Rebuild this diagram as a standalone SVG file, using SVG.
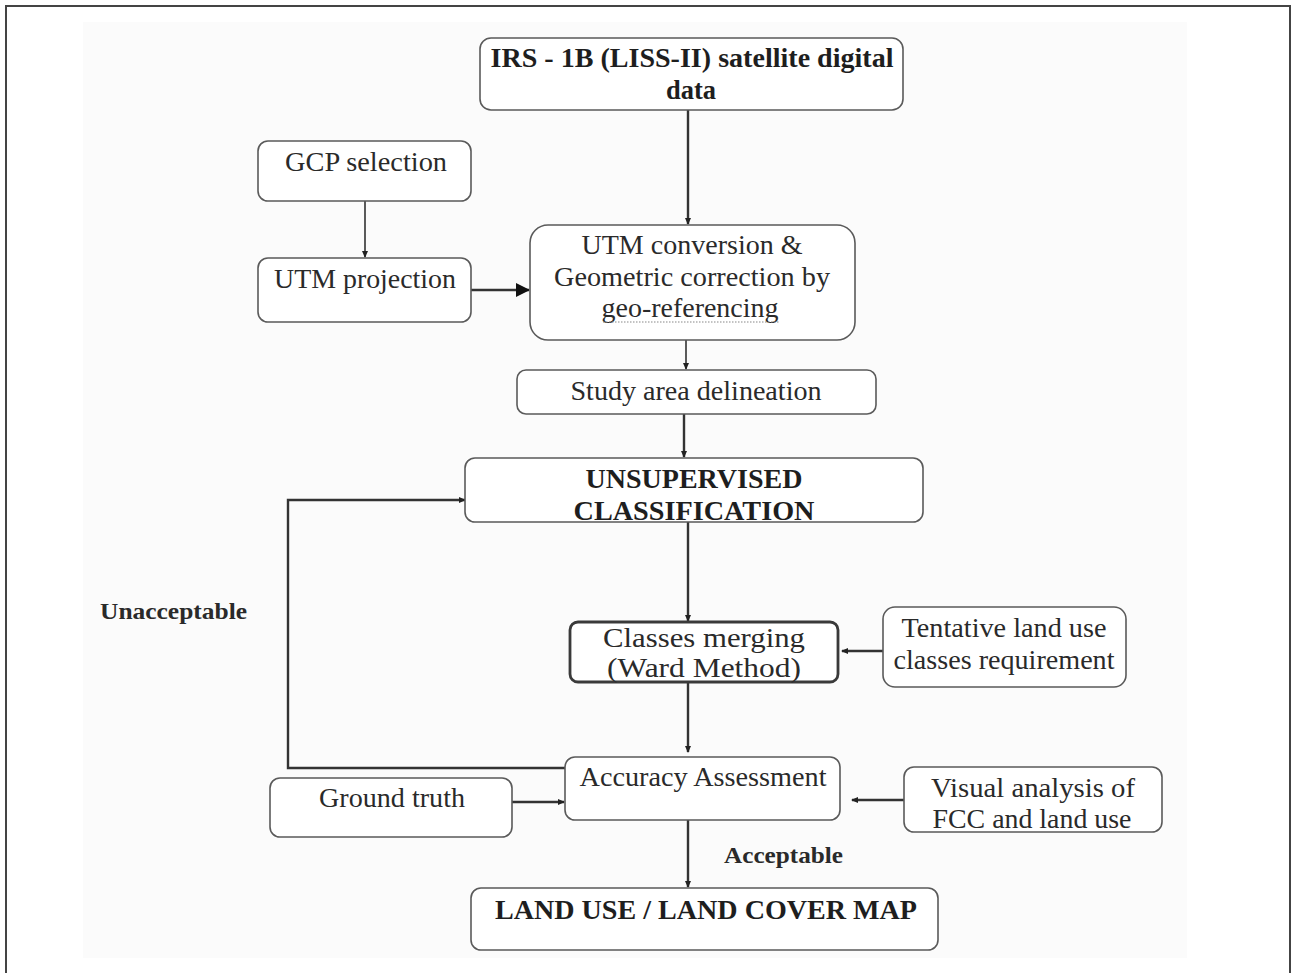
<svg xmlns="http://www.w3.org/2000/svg" width="1294" height="973" viewBox="0 0 1294 973">
<style>
.box{fill:#ffffff;stroke:#5a5a5a;stroke-width:1.6}
.thick{fill:#ffffff;stroke:#3a3a3a;stroke-width:2.8}
.t{font-family:"Liberation Serif","Times New Roman",serif;font-size:28px;fill:#2a2a2a;text-anchor:middle}
.b{font-family:"Liberation Serif","Times New Roman",serif;font-size:28px;font-weight:bold;fill:#1e1e1e;text-anchor:middle}
.lbl{font-family:"Liberation Serif","Times New Roman",serif;font-size:23px;font-weight:bold;fill:#2a2a2a}
.c{fill:none;stroke:#333;stroke-width:2.4}
.cthin{fill:none;stroke:#333;stroke-width:1.6}
</style>
<defs>
<marker id="dot" viewBox="0 0 8 8" refX="6" refY="4" markerWidth="8" markerHeight="8" markerUnits="userSpaceOnUse" orient="auto">
<path d="M0,1 L7,4 L0,7 Z" fill="#222"/>
</marker>
<marker id="big" viewBox="0 0 14 14" refX="13" refY="7" markerWidth="14" markerHeight="14" markerUnits="userSpaceOnUse" orient="auto">
<path d="M0,0 L14,7 L0,14 Z" fill="#111"/>
</marker>
</defs>
<rect x="0" y="0" width="1294" height="973" fill="#ffffff"/>
<rect x="6" y="6" width="1284" height="980" fill="#ffffff" stroke="#444" stroke-width="2"/>
<rect x="83" y="22" width="1104" height="936" fill="#fbfbfb"/>

<g id="connectors">
<path class="c" d="M688,110 V224" marker-end="url(#dot)"/>
<path class="cthin" d="M365,201 V257" marker-end="url(#dot)"/>
<path class="c" d="M471,290 H529" marker-end="url(#big)"/>
<path class="cthin" d="M686,340 V369" marker-end="url(#dot)"/>
<path class="c" d="M684,414 V457" marker-end="url(#dot)"/>
<path class="c" d="M688,522 V621" marker-end="url(#dot)"/>
<path class="c" d="M883,651 H842" marker-end="url(#dot)"/>
<path class="c" d="M688,682 V752" marker-end="url(#dot)"/>
<path class="c" d="M565,768 H288 V500 H465" marker-end="url(#dot)"/>
<path class="c" d="M512,802 H564" marker-end="url(#dot)"/>
<path class="c" d="M904,800 H852" marker-end="url(#dot)"/>
<path class="c" d="M688,820 V887" marker-end="url(#dot)"/>
</g>

<g id="n_irs">
<rect class="box" x="480" y="38" width="423" height="72" rx="11"/>
<text class="b" x="692" y="67" textLength="403" lengthAdjust="spacingAndGlyphs">IRS - 1B (LISS-II) satellite digital</text>
<text class="b" x="691" y="99" textLength="50" lengthAdjust="spacingAndGlyphs">data</text>
</g>
<g id="n_gcp">
<rect class="box" x="258" y="141" width="213" height="60" rx="10"/>
<text class="t" x="366" y="171" textLength="162" lengthAdjust="spacingAndGlyphs">GCP selection</text>
</g>
<g id="n_utmproj">
<rect class="box" x="258" y="258" width="213" height="64" rx="10"/>
<text class="t" x="365" y="288" textLength="182" lengthAdjust="spacingAndGlyphs">UTM projection</text>
</g>
<g id="n_utmconv">
<rect class="box" x="530" y="225" width="325" height="115" rx="18"/>
<text class="t" x="692" y="254" textLength="221" lengthAdjust="spacingAndGlyphs">UTM conversion &amp;</text>
<text class="t" x="692" y="286" textLength="276" lengthAdjust="spacingAndGlyphs">Geometric correction by</text>
<text class="t" x="690" y="317" textLength="177" lengthAdjust="spacingAndGlyphs">geo-referencing</text>
<path d="M603,322 H779" stroke="#888" stroke-width="1.2" stroke-dasharray="1.5,1.5"/>
</g>
<g id="n_study">
<rect class="box" x="517" y="370" width="359" height="44" rx="9"/>
<text class="t" x="696" y="400" textLength="251" lengthAdjust="spacingAndGlyphs">Study area delineation</text>
</g>
<g id="n_unsup">
<rect class="box" x="465" y="458" width="458" height="64" rx="10"/>
<text class="b" x="694" y="488" textLength="217" lengthAdjust="spacingAndGlyphs">UNSUPERVISED</text>
<text class="b" x="694" y="520" textLength="241" lengthAdjust="spacingAndGlyphs">CLASSIFICATION</text>
</g>
<g id="n_merge">
<rect class="thick" x="570" y="622" width="268" height="60" rx="8"/>
<text class="t" x="704" y="647" textLength="202" lengthAdjust="spacingAndGlyphs">Classes merging</text>
<text class="t" x="704" y="677" textLength="194" lengthAdjust="spacingAndGlyphs">(Ward Method)</text>
</g>
<g id="n_tent">
<rect class="box" x="883" y="607" width="243" height="80" rx="12"/>
<text class="t" x="1004" y="637" textLength="205" lengthAdjust="spacingAndGlyphs">Tentative land use</text>
<text class="t" x="1004" y="669" textLength="221" lengthAdjust="spacingAndGlyphs">classes requirement</text>
</g>
<g id="n_acc">
<rect class="box" x="565" y="757" width="275" height="63" rx="10"/>
<text class="t" x="703" y="786" textLength="247" lengthAdjust="spacingAndGlyphs">Accuracy Assessment</text>
</g>
<g id="n_ground">
<rect class="box" x="270" y="778" width="242" height="59" rx="10"/>
<text class="t" x="392" y="807" textLength="146" lengthAdjust="spacingAndGlyphs">Ground truth</text>
</g>
<g id="n_visual">
<rect class="box" x="904" y="767" width="258" height="65" rx="10"/>
<text class="t" x="1033" y="797" textLength="204" lengthAdjust="spacingAndGlyphs">Visual analysis of</text>
<text class="t" x="1032" y="828" textLength="199" lengthAdjust="spacingAndGlyphs">FCC and land use</text>
</g>
<g id="n_map">
<rect class="box" x="471" y="888" width="467" height="62" rx="10"/>
<text class="b" x="706" y="919" textLength="422" lengthAdjust="spacingAndGlyphs">LAND USE / LAND COVER MAP</text>
</g>
<g id="labels">
<text class="lbl" x="100" y="619" textLength="147" lengthAdjust="spacingAndGlyphs">Unacceptable</text>
<text class="lbl" x="724" y="863" textLength="119" lengthAdjust="spacingAndGlyphs">Acceptable</text>
</g>
</svg>
